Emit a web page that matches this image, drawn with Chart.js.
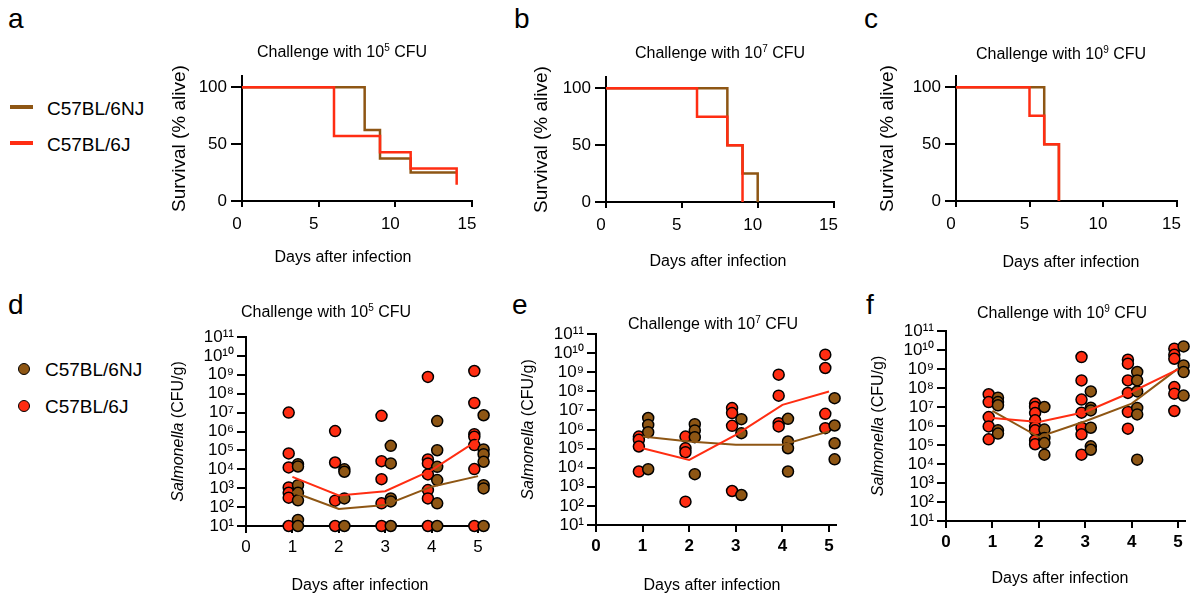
<!DOCTYPE html>
<html>
<head>
<meta charset="utf-8">
<script src="https://cdn.jsdelivr.net/npm/chart.js@4/dist/chart.umd.min.js"></script>
<style>
body{margin:0;width:1193px;height:597px;overflow:hidden;background:#fff;position:relative;font-family:'Liberation Sans',Arial,sans-serif;color:#000;}
canvas{position:absolute;}
.lbl{position:absolute;font-size:28px;line-height:1;}
.leg{position:absolute;font-size:19px;line-height:1;white-space:nowrap;}
.sw{position:absolute;}
</style>
</head>
<body>
<div class="lbl" style="left:8px;top:5px">a</div>
<div class="lbl" style="left:514px;top:5px">b</div>
<div class="lbl" style="left:864px;top:5px">c</div>
<div class="lbl" style="left:8px;top:291px">d</div>
<div class="lbl" style="left:512px;top:291px">e</div>
<div class="lbl" style="left:866px;top:291px">f</div>

<div class="sw" style="left:10px;top:105px;width:23px;height:4px;background:#8e5614"></div>
<div class="leg" style="left:47px;top:99px">C57BL/6NJ</div>
<div class="sw" style="left:10px;top:141px;width:23px;height:4px;background:#ff2d12"></div>
<div class="leg" style="left:47px;top:135px">C57BL/6J</div>

<div class="sw" style="left:18px;top:363px;width:10px;height:10px;border-radius:50%;background:#8e5614;border:1.5px solid #000"></div>
<div class="leg" style="left:45px;top:360px">C57BL/6NJ</div>
<div class="sw" style="left:18px;top:400px;width:10px;height:10px;border-radius:50%;background:#ff2d12;border:1.5px solid #000"></div>
<div class="leg" style="left:45px;top:397px">C57BL/6J</div>

<canvas id="chA"></canvas>
<canvas id="chB"></canvas>
<canvas id="chC"></canvas>
<canvas id="chD"></canvas>
<canvas id="chE"></canvas>
<canvas id="chF"></canvas>

<script>
// colours
var NJ_COLOR = '#8e5614';
var J_COLOR = '#ff2d12';

// survival (Kaplan-Meier steps), days and % alive
var aDaysJ = [0, 6, 9, 11, 14];
var aSurvJ = [100, 57.1, 42.9, 28.6, 14.3];
var aDaysNJ = [0, 8, 9, 11, 14];
var aSurvNJ = [100, 62.5, 37.5, 25, 25];

var bDaysJ = [0, 6, 8, 9];
var bSurvJ = [100, 75, 50, 0];
var bDaysNJ = [0, 8, 9, 10];
var bSurvNJ = [100, 50, 25, 0];

var cDaysJ = [0, 5, 6, 7];
var cSurvJ = [100, 75, 50, 0];
var cDaysNJ = [0, 6, 7];
var cSurvNJ = [100, 50, 0];

// bacterial load, log10 CFU/g, one list per day
var cfuDays = [1, 2, 3, 4, 5];

var dJ = [
    [7.0, 4.84, 4.1, 3.04, 2.76, 2.5, 1],
    [6.02, 4.36, 2.34, 1],
    [6.83, 4.43, 3.48, 2.2, 1],
    [8.89, 4.52, 4.31, 3.73, 2.9, 2.46, 1],
    [9.2, 7.51, 5.86, 5.72, 5.28, 4.01, 1]
];
var dNJ = [
    [4.27, 4.15, 3.16, 2.76, 2.36, 1.32, 1],
    [4.0, 3.87, 2.46, 1],
    [5.24, 4.31, 2.46, 2.3, 1],
    [6.55, 5.01, 4.13, 3.43, 2.2, 1],
    [6.86, 5.05, 4.8, 4.4, 3.16, 2.99, 1]
];
var dJMean = [3.6, 2.62, 2.84, 3.96, 5.54];
var dNJMean = [2.81, 1.9, 2.11, 3.08, 3.64];

var eJ = [
    [5.63, 5.46, 5.11, 3.8],
    [5.63, 5.02, 4.81, 2.22],
    [7.12, 6.86, 6.19, 2.78],
    [8.87, 7.77, 6.33, 6.16],
    [9.92, 9.22, 6.82, 6.07]
];
var eNJ = [
    [6.6, 6.24, 5.86, 3.92],
    [6.28, 5.95, 5.6, 3.66],
    [6.54, 5.81, 2.57],
    [6.56, 5.37, 5.02, 3.8],
    [7.64, 6.21, 5.28, 4.44]
];
var eJMean = [5.02, 4.41, 5.72, 7.29, 7.99];
var eNJMean = [5.63, 5.37, 5.2, 5.2, 5.9];

var fJ = [
    [7.67, 7.26, 6.47, 5.98, 5.3],
    [7.18, 7.0, 6.68, 6.3, 5.95, 5.77, 5.25, 5.04],
    [9.63, 8.4, 7.39, 6.7, 5.91, 5.56, 4.49],
    [9.49, 9.28, 8.4, 7.74, 6.74, 5.86],
    [10.07, 9.75, 9.54, 8.05, 7.7, 6.79]
];
var fNJ = [
    [7.49, 7.26, 7.09, 5.77, 5.6],
    [7.0, 5.81, 5.37, 5.1, 4.49],
    [7.82, 6.96, 6.82, 5.91, 4.93, 4.75],
    [8.84, 8.4, 7.82, 6.95, 6.61, 4.23],
    [10.19, 9.19, 8.84, 7.6]
];
var fJMean = [6.42, 6.21, 6.74, 7.79, 8.98];
var fNJMean = [6.79, 5.42, 6.25, 7.18, 9.02];

// tick labels
var survXTicks = [0, 5, 10, 15];
var survYTicks = [0, 50, 100];
var cfuXTicks = [0, 1, 2, 3, 4, 5];
var cfuYExp = [1, 2, 3, 4, 5, 6, 7, 8, 9, 10, 11];

Chart.defaults.font.family = "'Liberation Sans', Arial, sans-serif";
Chart.defaults.color = '#000';

var FAM = "'Liberation Sans', Arial, sans-serif";
var SUP = {'0':'\u2070','1':'\u00b9','2':'\u00b2','3':'\u00b3','4':'\u2074','5':'\u2075','6':'\u2076','7':'\u2077','8':'\u2078','9':'\u2079'};
function sup(n) {
    return String(n).split('').map(function (c) { return SUP[c]; }).join('');
}

// free text (titles, axis titles) with italic / superscript parts
var textPlugin = {
    id: 'texts',
    afterDraw: function (chart, args, opts) {
        var ctx = chart.ctx;
        (opts.items || []).forEach(function (it) {
            ctx.save();
            ctx.translate(it.x, it.y);
            if (it.rot) ctx.rotate(-Math.PI / 2);
            ctx.textBaseline = 'alphabetic';
            ctx.textAlign = 'left';
            ctx.fillStyle = '#000';
            function fontOf(p) {
                var s = p.sup ? Math.round(it.size * 0.65) : it.size;
                return (p.italic ? 'italic ' : '') + s + 'px ' + FAM;
            }
            var total = 0;
            it.parts.forEach(function (p) { ctx.font = fontOf(p); total += ctx.measureText(p.text).width; });
            var x = -total / 2, base = it.size * 0.36;
            it.parts.forEach(function (p) {
                ctx.font = fontOf(p);
                ctx.fillText(p.text, x, p.sup ? base - it.size * 0.36 : base);
                x += ctx.measureText(p.text).width;
            });
            ctx.restore();
        });
    }
};

function toPoints(days, vals) {
    return days.map(function (d, i) { return {x: d, y: vals[i]}; });
}
function toScatter(perDay, off) {
    var pts = [];
    perDay.forEach(function (vals, i) {
        vals.forEach(function (v) { pts.push({x: cfuDays[i] + off, y: Math.pow(10, v)}); });
    });
    return pts;
}
function toMean(means) {
    return cfuDays.map(function (d, i) { return {x: d, y: Math.pow(10, means[i])}; });
}

function titleParts(exp) {
    return [{text: 'Challenge with 10'}, {text: String(exp), sup: true}, {text: ' CFU'}];
}

// box: canvas position; area: chart area; t/xt/yt: text centres, all in page pixels
function makePanel(id, box, area, opt) {
    var el = document.getElementById(id);
    el.width = box.w; el.height = box.h;
    el.style.left = box.x + 'px'; el.style.top = box.y + 'px';

    var xScale = {
        type: 'linear', min: opt.xMin, max: opt.xMax,
        afterBuildTicks: function (s) { s.ticks = opt.xTicks.map(function (v) { return {value: v}; }); },
        afterFit: function (s) { s.height = box.y + box.h - area.B; },
        ticks: {font: {size: 17, weight: opt.xBold ? 'bold' : 'normal'}, color: '#000', padding: opt.xPad, labelOffset: opt.xLabelOffset || 0, maxRotation: 0, autoSkip: false},
        grid: {drawOnChartArea: false, drawTicks: true, tickLength: opt.xTickLen, color: '#000', lineWidth: 2},
        border: {color: '#000', width: 2}
    };
    var yScale = opt.log ? {
        type: 'logarithmic', min: 10, max: 1e11,
        afterBuildTicks: function (s) { s.ticks = cfuYExp.map(function (e) { return {value: Math.pow(10, e)}; }); },
        afterFit: function (s) { s.width = area.L - box.x; },
        ticks: {font: {size: 17}, color: '#000', padding: 3, autoSkip: false,
            callback: function (v) { return '10' + sup(Math.round(Math.log10(v))); }},
        grid: {drawOnChartArea: false, drawTicks: true, tickLength: 9, color: '#000', lineWidth: 2},
        border: {color: '#000', width: 2}
    } : {
        type: 'linear', min: 0, max: 110,
        afterBuildTicks: function (s) { s.ticks = survYTicks.map(function (v) { return {value: v}; }); },
        afterFit: function (s) { s.width = area.L - box.x; },
        ticks: {font: {size: 17}, color: '#000', padding: 4},
        grid: {drawOnChartArea: false, drawTicks: true, tickLength: 11, color: '#000', lineWidth: 2},
        border: {color: '#000', width: 2}
    };

    var midY = (area.T + area.B) / 2 - box.y;
    var items = [
        {x: opt.t[0] - box.x, y: opt.t[1] - box.y, size: 16, parts: titleParts(opt.exp)},
        {x: opt.xt[0] - box.x, y: opt.xt[1] - box.y, size: 16, parts: [{text: 'Days after infection'}]},
        {x: opt.yt - box.x, y: midY, size: opt.yTitleSize, rot: true, parts: opt.yTitle}
    ];

    new Chart(el, {
        type: 'scatter',
        data: {datasets: opt.datasets},
        options: {
            responsive: false,
            animation: false,
            devicePixelRatio: 1,
            layout: {padding: {left: 0, top: area.T - box.y, bottom: 0, right: box.x + box.w - area.R}},
            scales: {x: xScale, y: yScale},
            plugins: {
                legend: {display: false},
                tooltip: {enabled: false},
                texts: {items: items}
            }
        },
        plugins: [textPlugin]
    });
}

function survSets(dJx, sJ, dNJx, sNJ) {
    return [
        {data: toPoints(dJx, sJ), showLine: true, stepped: true, borderColor: J_COLOR, borderWidth: 2.5, pointRadius: 0, clip: false, order: 0},
        {data: toPoints(dNJx, sNJ), showLine: true, stepped: true, borderColor: NJ_COLOR, borderWidth: 2.5, pointRadius: 0, clip: false, order: 1}
    ];
}
function cfuSets(j, nj, jm, njm) {
    return [
        {data: toMean(jm), showLine: true, borderColor: J_COLOR, borderWidth: 2, pointRadius: 0, clip: false, order: 0},
        {data: toMean(njm), showLine: true, borderColor: NJ_COLOR, borderWidth: 2, pointRadius: 0, clip: false, order: 0},
        {data: toScatter(nj, 0.12), backgroundColor: NJ_COLOR, borderColor: '#000', borderWidth: 1.5, pointRadius: 5.5, clip: false, order: 1},
        {data: toScatter(j, -0.08), backgroundColor: J_COLOR, borderColor: '#000', borderWidth: 1.5, pointRadius: 5.5, clip: false, order: 2}
    ];
}

var survY = [{text: 'Survival (% alive)'}];
var cfuY = [{text: 'Salmonella', italic: true}, {text: ' (CFU/g)'}];
var survCommon = {xMin: 0, xMax: 15, xTicks: survXTicks, xPad: 7, xTickLen: 6, xLabelOffset: -5, yTitle: survY, yTitleSize: 19};
var cfuCommon = {log: true, xMin: 0, xMax: 5.15, xTicks: cfuXTicks, xPad: 4, xTickLen: 7, yTitle: cfuY, yTitleSize: 16};

makePanel('chA', {x: 160, y: 30, w: 330, h: 240}, {L: 242, T: 76, R: 472, B: 201},
    Object.assign({}, survCommon, {exp: 5, t: [342, 51], xt: [343, 256], yt: 178,
        datasets: survSets(aDaysJ, aSurvJ, aDaysNJ, aSurvNJ)}));
makePanel('chB', {x: 520, y: 30, w: 330, h: 240}, {L: 606, T: 77, R: 836, B: 202},
    Object.assign({}, survCommon, {exp: 7, t: [720, 52], xt: [718, 260], yt: 540,
        datasets: survSets(bDaysJ, bSurvJ, bDaysNJ, bSurvNJ)}));
makePanel('chC', {x: 870, y: 30, w: 323, h: 240}, {L: 956, T: 76, R: 1186, B: 201},
    Object.assign({}, survCommon, {exp: 9, t: [1061, 53], xt: [1071, 261], yt: 886,
        datasets: survSets(cDaysJ, cSurvJ, cDaysNJ, cSurvNJ)}));

makePanel('chD', {x: 160, y: 290, w: 340, h: 307}, {L: 246, T: 337, R: 485, B: 526},
    Object.assign({}, cfuCommon, {exp: 5, t: [326, 311], xt: [360, 584], yt: 177,
        datasets: cfuSets(dJ, dNJ, dJMean, dNJMean)}));
makePanel('chE', {x: 510, y: 290, w: 340, h: 307}, {L: 596, T: 334, R: 836, B: 525},
    Object.assign({}, cfuCommon, {xBold: true, exp: 7, t: [713, 323], xt: [712, 584], yt: 527,
        datasets: cfuSets(eJ, eNJ, eJMean, eNJMean)}));
makePanel('chF', {x: 860, y: 290, w: 333, h: 307}, {L: 946, T: 331, R: 1185, B: 521},
    Object.assign({}, cfuCommon, {xBold: true, exp: 9, t: [1062, 312], xt: [1060, 577], yt: 877,
        datasets: cfuSets(fJ, fNJ, fJMean, fNJMean)}));
</script>
</body>
</html>
